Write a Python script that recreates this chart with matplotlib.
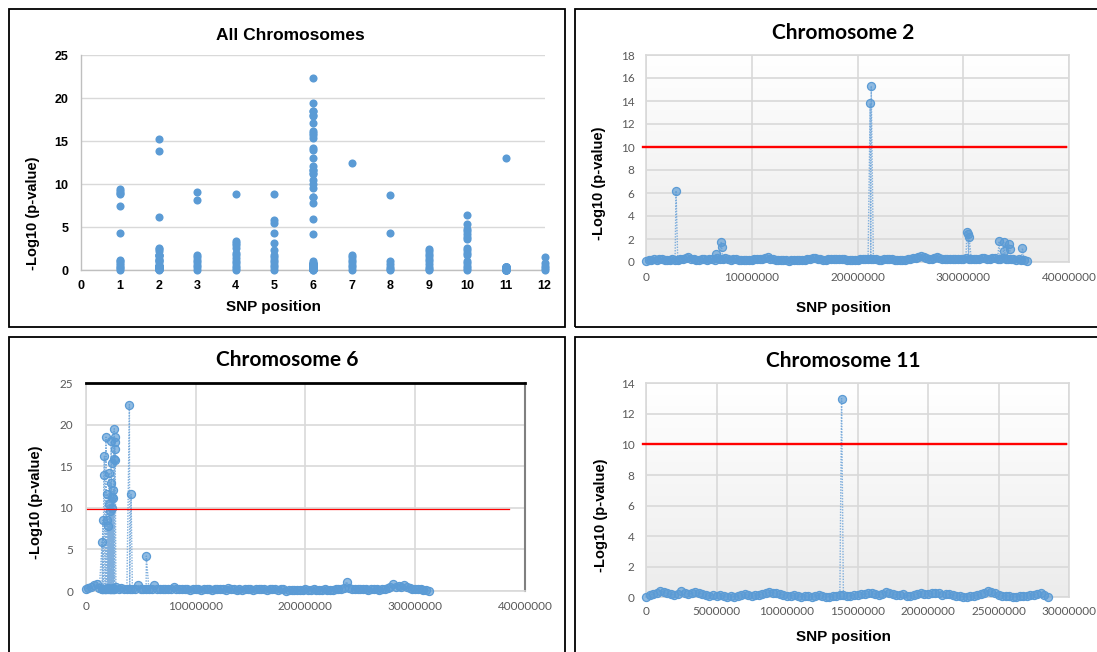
import numpy as np
import matplotlib
matplotlib.use("Agg")
import matplotlib.pyplot as plt
from matplotlib.patches import Rectangle
from matplotlib.colors import LinearSegmentedColormap

plt.rcParams['font.family'] = ['Liberation Sans', 'DejaVu Sans']

# ---------------- data ----------------
chrom_ids = [1, 2, 3, 4, 5, 6, 7, 8, 9, 10, 11, 12]
all_xticks = [0, 1, 2, 3, 4, 5, 6, 7, 8, 9, 10, 11, 12]
all_yticks = [0, 5, 10, 15, 20, 25]

chr1_all = [9.4, 9.2, 9.0, 8.8, 7.4, 4.3, 1.2, 1.0, 0.8, 0.6, 0.4, 0.2, 0.0]
chr3_all = [9.1, 8.1, 1.8, 1.5, 1.2, 0.9, 0.6, 0.3, 0.0]
chr4_all = [8.9, 3.4, 3.1, 2.9, 2.6, 2.0, 1.7, 1.4, 1.1, 0.8, 0.5, 0.2, 0.0]
chr5_all = [8.8, 5.8, 5.5, 4.3, 3.1, 2.3, 1.8, 1.5, 1.2, 0.9, 0.6, 0.3, 0.0]
chr7_all = [12.5, 1.8, 1.5, 1.2, 0.9, 0.6, 0.3, 0.0]
chr8_all = [8.7, 4.3, 1.0, 0.7, 0.4, 0.1, 0.0]
chr9_all = [2.5, 2.2, 1.9, 1.6, 1.3, 1.0, 0.7, 0.4, 0.1, 0.0]
chr10_all = [6.4, 5.4, 4.8, 4.5, 4.2, 3.9, 3.6, 2.6, 2.3, 2.0, 1.8, 1.1, 0.8, 0.5, 0.2, 0.0]
chr12_all = [1.5, 0.8, 0.5, 0.2, 0.0]

# Chromosome 2 (positions in Mb)
chr2_base_pos = [
    0.0, 0.25, 0.5, 0.75, 1.0, 1.25, 1.5, 1.75,
    2.0, 2.25, 2.5, 2.75, 3.0, 3.25, 3.5, 3.75,
    4.0, 4.25, 4.5, 4.75, 5.0, 5.25, 5.5, 5.75,
    6.0, 6.25, 6.5, 6.75, 7.0, 7.25, 7.5, 7.75,
    8.0, 8.25, 8.5, 8.75, 9.0, 9.25, 9.5, 9.75,
    10.0, 10.25, 10.5, 10.75, 11.0, 11.25, 11.5, 11.75,
    12.0, 12.25, 12.5, 12.75, 13.0, 13.25, 13.5, 13.75,
    14.0, 14.25, 14.5, 14.75, 15.0, 15.25, 15.5, 15.75,
    16.0, 16.25, 16.5, 16.75, 17.0, 17.25, 17.5, 17.75,
    18.0, 18.25, 18.5, 18.75, 19.0, 19.25, 19.5, 19.75,
    20.0, 20.25, 20.5, 20.75, 21.0, 21.25, 21.5, 21.75,
    22.0, 22.25, 22.5, 22.75, 23.0, 23.25, 23.5, 23.75,
    24.0, 24.25, 24.5, 24.75, 25.0, 25.25, 25.5, 25.75,
    26.0, 26.25, 26.5, 26.75, 27.0, 27.25, 27.5, 27.75,
    28.0, 28.25, 28.5, 28.75, 29.0, 29.25, 29.5, 29.75,
    30.0, 30.25, 30.5, 30.75, 31.0, 31.25, 31.5, 31.75,
    32.0, 32.25, 32.5, 32.75, 33.0, 33.25, 33.5, 33.75,
    34.0, 34.25, 34.5, 34.75, 35.0, 35.25, 35.5, 35.75,
    36.0]
chr2_base_val = [
    0.10, 0.20, 0.15, 0.25, 0.20, 0.30, 0.25, 0.15,
    0.20, 0.15, 0.25, 0.20, 0.20, 0.30, 0.25, 0.35,
    0.40, 0.30, 0.25, 0.20, 0.20, 0.25, 0.30, 0.20,
    0.25, 0.30, 0.20, 0.35, 0.30, 0.25, 0.35, 0.30,
    0.20, 0.25, 0.30, 0.20, 0.15, 0.20, 0.20, 0.15,
    0.20, 0.25, 0.25, 0.30, 0.30, 0.35, 0.40, 0.30,
    0.25, 0.20, 0.15, 0.20, 0.20, 0.15, 0.10, 0.15,
    0.15, 0.20, 0.20, 0.15, 0.20, 0.25, 0.30, 0.35,
    0.35, 0.30, 0.25, 0.20, 0.20, 0.25, 0.30, 0.30,
    0.25, 0.30, 0.30, 0.25, 0.20, 0.15, 0.15, 0.20,
    0.20, 0.25, 0.25, 0.30, 0.30, 0.25, 0.30, 0.25,
    0.20, 0.20, 0.25, 0.30, 0.30, 0.25, 0.20, 0.15,
    0.15, 0.20, 0.20, 0.25, 0.30, 0.35, 0.35, 0.40,
    0.50, 0.40, 0.35, 0.30, 0.30, 0.35, 0.40, 0.35,
    0.30, 0.30, 0.25, 0.30, 0.30, 0.25, 0.25, 0.30,
    0.30, 0.35, 0.30, 0.30, 0.25, 0.30, 0.30, 0.35,
    0.35, 0.30, 0.30, 0.35, 0.35, 0.30, 0.30, 0.35,
    0.30, 0.30, 0.25, 0.30, 0.20, 0.25, 0.15, 0.20,
    0.05]
chr2_peak_pos = [2.84, 6.6, 7.1, 7.15, 21.2, 21.3, 30.35, 30.45, 30.55,
                 33.4, 33.85, 33.9, 34.3, 34.4, 35.6]
chr2_peak_val = [6.2, 0.7, 1.7, 1.3, 13.8, 15.3, 2.6, 2.4, 2.2,
                 1.8, 1.7, 1.0, 1.6, 1.1, 1.2]
chr2_threshold = 10
chr2_yticks = [0, 2, 4, 6, 8, 10, 12, 14, 16, 18]
chr2_xticks = [0, 10000000, 20000000, 30000000, 40000000]

# Chromosome 6 (positions in Mb)
chr6_base_pos = [
    0.0, 0.25, 0.5, 0.75, 1.0, 1.25, 1.5, 1.75,
    2.0, 2.25, 2.5, 2.75, 3.0, 3.25, 3.5, 3.75,
    4.0, 4.25, 4.5, 4.75, 5.0, 5.25, 5.5, 5.75,
    6.0, 6.25, 6.5, 6.75, 7.0, 7.25, 7.5, 7.75,
    8.0, 8.25, 8.5, 8.75, 9.0, 9.25, 9.5, 9.75,
    10.0, 10.25, 10.5, 10.75, 11.0, 11.25, 11.5, 11.75,
    12.0, 12.25, 12.5, 12.75, 13.0, 13.25, 13.5, 13.75,
    14.0, 14.25, 14.5, 14.75, 15.0, 15.25, 15.5, 15.75,
    16.0, 16.25, 16.5, 16.75, 17.0, 17.25, 17.5, 17.75,
    18.0, 18.25, 18.5, 18.75, 19.0, 19.25, 19.5, 19.75,
    20.0, 20.25, 20.5, 20.75, 21.0, 21.25, 21.5, 21.75,
    22.0, 22.25, 22.5, 22.75, 23.0, 23.25, 23.5, 23.75,
    24.0, 24.25, 24.5, 24.75, 25.0, 25.25, 25.5, 25.75,
    26.0, 26.25, 26.5, 26.75, 27.0, 27.25, 27.5, 27.75,
    28.0, 28.25, 28.5, 28.75, 29.0, 29.25, 29.5, 29.75,
    30.0, 30.25, 30.5, 30.75, 31.0, 31.25,
    1.52, 1.60, 1.78, 1.88, 2.06, 2.18, 2.29, 2.38, 2.46, 2.54, 2.62]
chr6_base_val = [
    0.30, 0.35, 0.50, 0.70, 0.80, 0.40, 0.30, 0.25,
    0.35, 0.30, 0.40, 0.50, 0.30, 0.35, 0.30, 0.25,
    0.30, 0.25, 0.30, 0.70, 0.30, 0.25, 0.30, 0.25,
    0.30, 0.70, 0.30, 0.25, 0.20, 0.25, 0.30, 0.20,
    0.50, 0.25, 0.20, 0.25, 0.30, 0.20, 0.15, 0.20,
    0.25, 0.20, 0.15, 0.20, 0.25, 0.20, 0.15, 0.20,
    0.20, 0.25, 0.20, 0.15, 0.35, 0.20, 0.25, 0.15,
    0.20, 0.15, 0.20, 0.25, 0.20, 0.15, 0.20, 0.25,
    0.20, 0.25, 0.15, 0.20, 0.25, 0.20, 0.15, 0.25,
    0.20, 0.00, 0.10, 0.15, 0.10, 0.15, 0.10, 0.15,
    0.20, 0.15, 0.10, 0.20, 0.15, 0.10, 0.15, 0.20,
    0.15, 0.10, 0.15, 0.20, 0.25, 0.30, 0.40, 1.10,
    0.40, 0.30, 0.25, 0.30, 0.20, 0.25, 0.20, 0.15,
    0.20, 0.25, 0.20, 0.15, 0.25, 0.30, 0.40, 0.50,
    0.80, 0.50, 0.60, 0.50, 0.70, 0.50, 0.40, 0.30,
    0.30, 0.25, 0.20, 0.15, 0.10, 0.05,
    0.20, 0.30, 0.20, 0.30, 0.20, 0.30, 0.20, 0.30, 0.20, 0.30, 0.20]
chr6_peak_pos = [1.49, 1.55, 1.65, 1.70, 1.85, 1.92, 1.97, 2.03, 2.09, 2.15,
                 2.21, 2.26, 2.31, 2.35, 2.40, 2.44, 2.49, 2.52, 2.56, 2.60,
                 2.63, 2.65, 2.67, 2.69, 3.98, 4.13, 5.52]
chr6_peak_val = [5.9, 8.5, 14.0, 16.2, 18.5, 8.5, 11.7, 7.8, 10.5, 14.2,
                 9.6, 13.0, 18.0, 15.4, 11.3, 10.0, 12.1, 11.2, 15.9, 19.5,
                 18.5, 17.9, 17.1, 15.7, 22.4, 11.6, 4.2]
chr6_threshold = 9.85
chr6_yticks = [0, 5, 10, 15, 20, 25]
chr6_xticks = [0, 10000000, 20000000, 30000000, 40000000]

# Chromosome 11 (positions in Mb)
chr11_base_pos = [
    0.0, 0.25, 0.5, 0.75, 1.0, 1.25, 1.5, 1.75,
    2.0, 2.25, 2.5, 2.75, 3.0, 3.25, 3.5, 3.75,
    4.0, 4.25, 4.5, 4.75, 5.0, 5.25, 5.5, 5.75,
    6.0, 6.25, 6.5, 6.75, 7.0, 7.25, 7.5, 7.75,
    8.0, 8.25, 8.5, 8.75, 9.0, 9.25, 9.5, 9.75,
    10.0, 10.25, 10.5, 10.75, 11.0, 11.25, 11.5, 11.75,
    12.0, 12.25, 12.5, 12.75, 13.0, 13.25, 13.5, 13.75,
    14.0, 14.25, 14.5, 14.75, 15.0, 15.25, 15.5, 15.75,
    16.0, 16.25, 16.5, 16.75, 17.0, 17.25, 17.5, 17.75,
    18.0, 18.25, 18.5, 18.75, 19.0, 19.25, 19.5, 19.75,
    20.0, 20.25, 20.5, 20.75, 21.0, 21.25, 21.5, 21.75,
    22.0, 22.25, 22.5, 22.75, 23.0, 23.25, 23.5, 23.75,
    24.0, 24.25, 24.5, 24.75, 25.0, 25.25, 25.5, 25.75,
    26.0, 26.25, 26.5, 26.75, 27.0, 27.25, 27.5, 27.75,
    28.0, 28.25, 28.5]
chr11_base_val = [
    0.05, 0.15, 0.20, 0.25, 0.40, 0.35, 0.25, 0.20,
    0.15, 0.20, 0.40, 0.30, 0.20, 0.25, 0.35, 0.30,
    0.20, 0.15, 0.10, 0.15, 0.10, 0.15, 0.10, 0.05,
    0.10, 0.05, 0.10, 0.15, 0.20, 0.15, 0.10, 0.15,
    0.15, 0.20, 0.25, 0.35, 0.30, 0.25, 0.20, 0.15,
    0.10, 0.10, 0.15, 0.10, 0.05, 0.10, 0.10, 0.05,
    0.10, 0.15, 0.10, 0.05, 0.05, 0.10, 0.10, 0.15,
    0.15, 0.10, 0.10, 0.15, 0.15, 0.20, 0.20, 0.25,
    0.30, 0.20, 0.15, 0.20, 0.35, 0.25, 0.20, 0.15,
    0.15, 0.20, 0.10, 0.10, 0.15, 0.20, 0.30, 0.20,
    0.20, 0.25, 0.25, 0.30, 0.15, 0.20, 0.20, 0.15,
    0.10, 0.10, 0.05, 0.05, 0.10, 0.10, 0.15, 0.20,
    0.30, 0.40, 0.35, 0.25, 0.15, 0.10, 0.10, 0.10,
    0.05, 0.05, 0.10, 0.10, 0.10, 0.15, 0.15, 0.20,
    0.30, 0.15, 0.00]
chr11_peak_pos = [13.87]
chr11_peak_val = [13.0]
chr11_threshold = 10
chr11_yticks = [0, 2, 4, 6, 8, 10, 12, 14]
chr11_xticks = [0, 5000000, 10000000, 15000000, 20000000, 25000000, 30000000]

titles = ["All Chromosomes", "Chromosome 2", "Chromosome 6", "Chromosome 11"]
ylabel_text = "-Log10 (p-value)"
xlabel_text = "SNP position"

# ---------------- layout helpers ----------------
W, H = 1097, 652
fig = plt.figure(figsize=(W / 100, H / 100), dpi=100)


def rect(l, t, r, b):
    return [l / W, 1 - b / H, (r - l) / W, (b - t) / H]


def ftext(x, y, s, **kw):
    fig.text(x / W, 1 - y / H, s, ha='center', va='center', **kw)


def box(l, t, r, b):
    fig.add_artist(Rectangle((l / W, 1 - b / H), (r - l) / W, (b - t) / H,
                             transform=fig.transFigure, fill=False,
                             ec='black', lw=1.3, zorder=10))


box(9, 9, 565, 327)
box(575, 9, 1105, 327)
box(9, 337, 565, 662)
box(575, 337, 1105, 662)

BLUE = '#5B9BD5'
GRID = '#D9D9D9'
TICKC = '#595959'
TICKFONT = ['Lato', 'DejaVu Sans']
TITLEFONT = ['Lato', 'DejaVu Sans']
gradient_cmap = LinearSegmentedColormap.from_list('bg', ['#ECECEC', '#FFFFFF'])

# ---------------- panel 1 ----------------
ax1 = fig.add_axes(rect(81.4, 55.3, 544.6, 270))
series_all = {1: chr1_all, 2: chr2_base_val + chr2_peak_val, 3: chr3_all,
              4: chr4_all, 5: chr5_all, 6: chr6_base_val + chr6_peak_val,
              7: chr7_all, 8: chr8_all, 9: chr9_all, 10: chr10_all,
              11: chr11_base_val + chr11_peak_val, 12: chr12_all}
for cid in chrom_ids:
    vals = series_all[cid]
    ax1.scatter([cid] * len(vals), vals, s=34, color=BLUE, lw=0,
                zorder=3, clip_on=False)
ax1.set_xlim(0, 12)
ax1.set_ylim(0, 25)
ax1.set_xticks(all_xticks)
ax1.set_yticks(all_yticks)
ax1.grid(axis='y', color=GRID, lw=1.0)
ax1.set_axisbelow(True)
for s in ['top', 'right']:
    ax1.spines[s].set_visible(False)
for s in ['left', 'bottom']:
    ax1.spines[s].set_color('#BFBFBF')
    ax1.spines[s].set_linewidth(1.0)
ax1.tick_params(axis='both', length=0, labelsize=9)
ax1.tick_params(axis='y', pad=9.5)
ax1.tick_params(axis='x', pad=7)
for lab in ax1.get_xticklabels() + ax1.get_yticklabels():
    lab.set_fontweight('bold')
ftext(290, 35, titles[0], fontsize=12.5, fontweight='bold')
ftext(273, 307, xlabel_text, fontsize=11, fontweight='bold')
ftext(33, 213, ylabel_text, fontsize=10.5, fontweight='bold', rotation=90)


# ---------------- chromosome panels ----------------
def chrom_panel(r, base_pos, base_val, peak_pos, peak_val, xticks, yticks,
                xmax, ymax, gradient=True):
    ax = fig.add_axes(r)
    pos = np.array(base_pos + peak_pos) * 1e6
    val = np.array(base_val + peak_val)
    order = np.argsort(pos, kind='stable')
    if gradient:
        ax.imshow(np.linspace(0, 1, 256).reshape(-1, 1), extent=[0, 1, 0, 1],
                  transform=ax.transAxes, cmap=gradient_cmap, aspect='auto',
                  origin='lower', zorder=0)
    ax.plot(pos[order], val[order], ls=(0, (1, 1)), lw=1.0, color='#7FAEDC',
            marker='o', ms=5.8, mfc=(0.357, 0.608, 0.835, 0.68), mec=BLUE,
            mew=0.9, zorder=3, clip_on=False)
    ax.set_xlim(0, xmax)
    ax.set_ylim(0, ymax)
    ax.set_xticks(xticks)
    ax.set_xticklabels([str(t) for t in xticks])
    ax.set_yticks(yticks)
    ax.grid(True, color=GRID, lw=1.2)
    ax.set_axisbelow(True)
    for s in ax.spines.values():
        s.set_color(GRID)
        s.set_linewidth(1.2)
    ax.tick_params(axis='both', length=0, labelsize=8.5, labelcolor=TICKC)
    for lab in ax.get_xticklabels() + ax.get_yticklabels():
        lab.set_fontfamily(TICKFONT)
    return ax


ax2 = chrom_panel(rect(646, 55, 1069, 262), chr2_base_pos, chr2_base_val,
                  chr2_peak_pos, chr2_peak_val, chr2_xticks, chr2_yticks,
                  40000000, 18)
ax2.tick_params(axis='y', pad=8.2)
ax2.tick_params(axis='x', pad=7)
ax2.plot([-0.28e6, 39.7e6], [chr2_threshold] * 2, color='#FF0000', lw=1.7,
         zorder=4, clip_on=False)
ftext(843, 33, titles[1], fontsize=15, fontweight='bold', family=TITLEFONT)
ftext(844, 308, xlabel_text, fontsize=11, fontweight='bold')
ftext(599, 183, ylabel_text, fontsize=10.5, fontweight='bold', rotation=90)

ax3 = chrom_panel(rect(85.7, 383, 525, 591), chr6_base_pos, chr6_base_val,
                  chr6_peak_pos, chr6_peak_val, chr6_xticks, chr6_yticks,
                  40000000, 25, gradient=False)
ax3.spines['top'].set_color('black')
ax3.spines['top'].set_linewidth(2.0)
ax3.spines['right'].set_color('#808080')
ax3.spines['right'].set_linewidth(1.5)
ax3.tick_params(axis='y', pad=9)
ax3.tick_params(axis='x', pad=7.5)
ax3.plot([0.1e6, 38.5e6], [chr6_threshold] * 2, color='#FF0000', lw=0.9,
         zorder=4, clip_on=False)
ftext(287, 360, titles[2], fontsize=15, fontweight='bold', family=TITLEFONT)
ftext(36, 502, ylabel_text, fontsize=10.5, fontweight='bold', rotation=90)

ax4 = chrom_panel(rect(646, 383.3, 1069, 597.3), chr11_base_pos, chr11_base_val,
                  chr11_peak_pos, chr11_peak_val, chr11_xticks, chr11_yticks,
                  30000000, 14)
ax4.tick_params(axis='y', pad=8.2)
ax4.tick_params(axis='x', pad=6.5)
ax4.plot([-0.2e6, 29.8e6], [chr11_threshold] * 2, color='#FF0000', lw=1.7,
         zorder=4, clip_on=False)
ftext(843, 361, titles[3], fontsize=15, fontweight='bold', family=TITLEFONT)
ftext(844, 637, xlabel_text, fontsize=11, fontweight='bold')
ftext(601, 515, ylabel_text, fontsize=10.5, fontweight='bold', rotation=90)

fig.savefig('out.png', dpi=100)
